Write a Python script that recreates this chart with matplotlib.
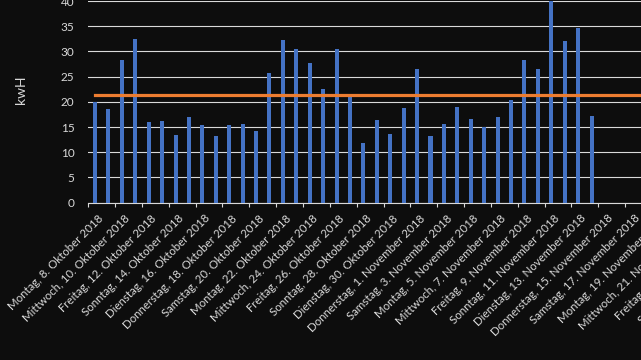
import matplotlib
matplotlib.use("Agg")
import matplotlib.pyplot as plt
from matplotlib.transforms import ScaledTranslation
import datetime as dt

# daily energy use (kWh), 8 Oct - 14 Nov 2018
kwh = [20.0, 18.6, 28.3, 32.5, 16.0, 16.2, 13.4, 16.9, 15.4, 13.3,
       15.4, 15.6, 14.2, 25.7, 32.3, 30.5, 27.8, 22.5, 30.5, 21.0,
       11.9, 16.4, 13.6, 18.8, 26.5, 13.2, 15.6, 19.0, 16.6, 15.1,
       16.9, 20.4, 28.3, 26.6, 40.5, 32.1, 34.6, 17.1]
avg_kwh = 21.3
n_days = 54  # axis runs to 30 Nov 2018
start = dt.date(2018, 10, 8)

wochentage = ["Montag", "Dienstag", "Mittwoch", "Donnerstag", "Freitag", "Samstag", "Sonntag"]
monate = {10: "Oktober", 11: "November"}
dates = [start + dt.timedelta(days=i) for i in range(n_days)]
labels = [f"{wochentage[d.weekday()]}, {d.day}. {monate[d.month]} {d.year}" for d in dates]

plt.rcParams['font.family'] = ['Lato', 'DejaVu Sans']
bg = "#0d0d0d"
fg = "#d9d9d9"

fig = plt.figure(figsize=(6.41, 3.6), dpi=100, facecolor=bg)
left = 88.3 / 641
width = n_days * 13.42 / 641
bottom = (360 - 202.7) / 360
top = (360 - 1) / 360
ax = fig.add_axes([left, bottom, width, top - bottom], facecolor=bg)

x = list(range(len(kwh)))
ax.bar(x, kwh, width=0.3, color="#4472C4", zorder=3)
ax.plot(range(n_days), [avg_kwh] * n_days, color="#ED7D31", lw=2.3, zorder=4)

ax.set_xlim(-0.5, n_days - 0.5)
ax.set_ylim(0, 40)
ax.set_yticks(range(0, 41, 5))
ax.grid(axis="y", color=fg, lw=0.8, zorder=0)
ax.set_axisbelow(True)

for s in ["top", "right", "left"]:
    ax.spines[s].set_visible(False)
ax.spines["bottom"].set_color(fg)
ax.spines["bottom"].set_linewidth(0.8)

ax.tick_params(axis="y", length=0, colors=fg, labelsize=8.5, pad=10)

# tick marks between every second day, labels on even days
ax.set_xticks([i - 0.5 for i in range(0, n_days + 1, 2)], minor=True)
ax.tick_params(axis="x", which="minor", length=3, color=fg, width=0.8)
ax.set_xticks(range(0, n_days, 2))
ax.set_xticklabels(labels[::2], rotation=45, ha="right", va="center",
                   rotation_mode="anchor", color=fg, fontsize=8.3)
ax.tick_params(axis="x", which="major", length=0, pad=10)
off = ScaledTranslation(6 / 100, 0, fig.dpi_scale_trans)
for lab in ax.get_xticklabels():
    lab.set_transform(lab.get_transform() + off)

fig.text(21 / 641, 1 - 90 / 360, "kwH", rotation=90, color=fg,
         fontsize=10, ha="center", va="center")

fig.savefig("out.png", dpi=100, facecolor=bg)
